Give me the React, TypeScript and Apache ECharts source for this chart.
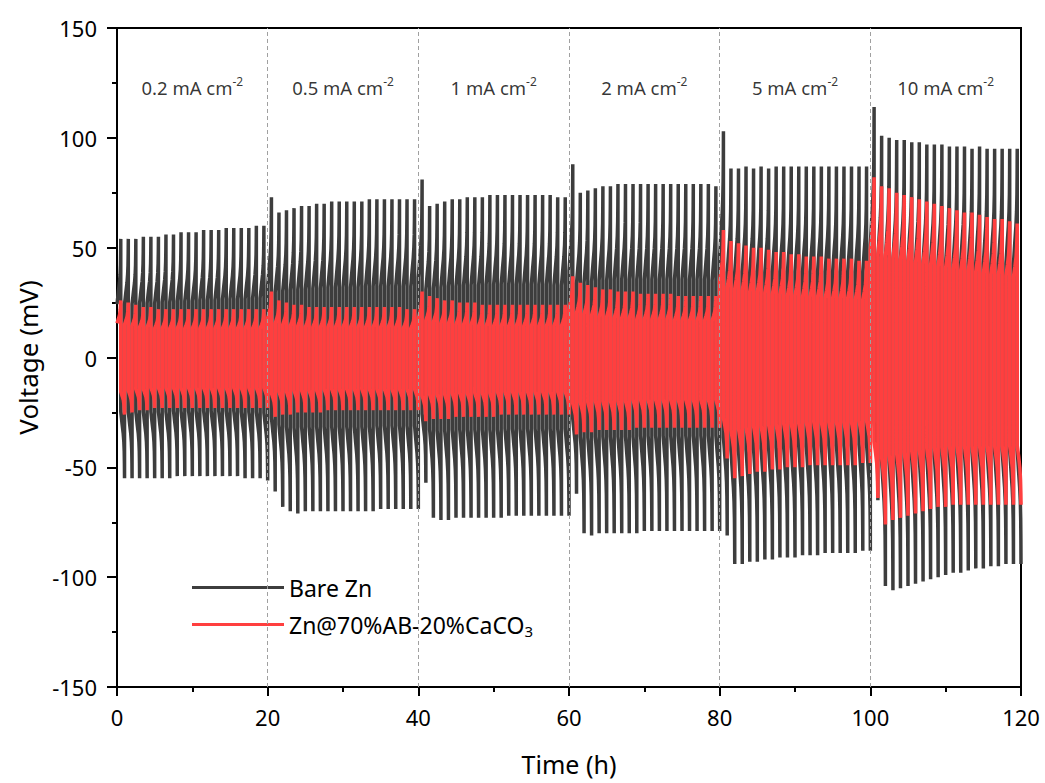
import React, { useEffect, useRef } from "react";
import * as echarts from "echarts";

// ---- data ----
const segmentCurrents = ["0.2", "0.5", "1", "2", "5", "10"];
const segmentCentres = [10, 30, 50, 70, 90, 110];
const segmentBounds = [20, 40, 60, 80, 100];
const cycleHours = 1; // one plating/stripping cycle per hour

// peak voltage (mV) of each cycle, charge half (positive) and discharge half (negative)
const bareZnTop = [
  54, 54, 54, 55, 55, 55, 56, 56, 57, 57, 57, 58, 58, 58, 59, 59, 59, 59, 60, 60,
  73, 66, 67, 68, 69, 69, 70, 70, 71, 71, 71, 71, 71, 72, 72, 72, 72, 72, 72, 72,
  81, 69, 70, 71, 72, 72, 73, 73, 73, 74, 74, 74, 74, 74, 74, 74, 74, 74, 73, 73,
  88, 75, 76, 77, 78, 78, 79, 79, 79, 79, 79, 79, 79, 79, 79, 79, 79, 79, 79, 78,
  103, 86, 86, 87, 86, 87, 86, 87, 87, 87, 87, 87, 87, 87, 87, 87, 87, 87, 87, 87,
  114, 101, 100, 99, 99, 98, 98, 97, 97, 97, 96, 96, 96, 95, 96, 95, 95, 95, 95, 95,
];
const bareZnBottom = [
  -55, -55, -55, -55, -55, -55, -55, -54, -54, -54, -54, -54, -54, -54, -54, -54, -55, -55, -55, -56,
  -61, -68, -70, -71, -70, -70, -70, -70, -70, -70, -70, -70, -70, -70, -69, -69, -69, -69, -69, -69,
  -57, -73, -74, -74, -73, -73, -73, -73, -73, -73, -73, -72, -72, -72, -72, -72, -72, -72, -72, -72,
  -62, -80, -81, -80, -80, -80, -80, -80, -80, -79, -79, -79, -79, -79, -79, -79, -79, -79, -79, -79,
  -81, -94, -94, -93, -93, -92, -92, -91, -91, -91, -90, -90, -90, -89, -89, -89, -89, -89, -88, -88,
  -65, -104, -106, -105, -104, -103, -102, -101, -100, -99, -98, -98, -97, -96, -96, -95, -95, -94, -94, -94,
];
const coatedZnTop = [
  26, 25, 24, 23, 23, 22, 22, 22, 22, 22, 22, 22, 22, 22, 22, 22, 22, 22, 22, 22,
  30, 26, 25, 24, 24, 23, 23, 23, 23, 23, 23, 23, 23, 23, 23, 23, 23, 23, 22, 22,
  30, 28, 27, 26, 26, 25, 25, 25, 24, 24, 24, 24, 24, 24, 24, 24, 24, 24, 24, 24,
  37, 34, 33, 32, 31, 31, 30, 30, 30, 29, 29, 29, 29, 29, 28, 28, 28, 28, 28, 28,
  58, 53, 52, 51, 50, 50, 49, 48, 48, 47, 47, 46, 46, 46, 45, 45, 45, 45, 44, 44,
  82, 78, 77, 75, 74, 73, 72, 71, 70, 69, 68, 67, 66, 66, 65, 64, 63, 63, 62, 61,
];
const coatedZnBottom = [
  -26, -25, -24, -24, -23, -23, -23, -23, -23, -23, -23, -23, -23, -23, -23, -23, -23, -23, -23, -23,
  -27, -26, -26, -25, -25, -25, -25, -24, -24, -24, -24, -24, -24, -24, -24, -24, -24, -24, -24, -24,
  -29, -28, -28, -28, -27, -27, -27, -27, -27, -27, -26, -26, -26, -26, -26, -26, -26, -26, -26, -26,
  -35, -34, -34, -33, -33, -33, -33, -33, -32, -32, -32, -32, -32, -32, -32, -32, -32, -32, -32, -32,
  -46, -55, -54, -53, -52, -52, -51, -51, -50, -50, -50, -49, -49, -49, -49, -49, -49, -49, -48, -48,
  -64, -76, -74, -73, -72, -71, -70, -69, -68, -68, -67, -67, -67, -67, -67, -67, -67, -67, -67, -67,
];

// shape of one half-cycle: [fraction of half-cycle time, fraction of the peak voltage]
const bareZnHalfShape = [
  [0, 0.45], [0.35, 0.55], [0.65, 0.63], [0.82, 0.7], [0.92, 0.78], [0.97, 0.88], [1, 1],
];
const coatedZnHalfShape = [
  [0, 0.6], [0.4, 0.68], [0.7, 0.75], [0.86, 0.83], [0.95, 0.92], [1, 1],
];

const seriesNames = ["Bare Zn", "Zn@70%AB-20%CaCO3"];
const seriesColors = ["#3d3d3d", "#ff3f3f"];

function buildCurve(top: number[], bottom: number[], shape: number[][]) {
  const pts: number[][] = [];
  const half = cycleHours / 2;
  for (let i = 0; i < top.length; i++) {
    const t0 = i * cycleHours;
    for (const [p, f] of shape) pts.push([t0 + p * half, top[i] * f]);
    for (const [p, f] of shape) pts.push([t0 + half + p * half, bottom[i] * f]);
  }
  return pts;
}

const FONT = "Noto Sans";

export default function App() {
  const ref = useRef<HTMLDivElement>(null);
  useEffect(() => {
    const chart = echarts.init(ref.current!, null, { renderer: "svg" });
    const option: any = {
      animation: false,
      backgroundColor: "#fff",
      textStyle: { fontFamily: FONT, color: "#000" },
      grid: {
        left: 117,
        right: 24,
        top: 28,
        bottom: 96,
        containLabel: false,
        outerBoundsMode: "none",
        show: true,
        borderColor: "#000",
        borderWidth: 2,
        backgroundColor: "transparent",
      },
      xAxis: {
        type: "value",
        min: 0,
        max: 120,
        interval: 20,
        name: "Time (h)",
        nameLocation: "middle",
        nameGap: 64,
        nameTextStyle: { fontSize: 25, fontFamily: FONT, color: "#000" },
        axisLine: { show: true, onZero: false, lineStyle: { color: "#000", width: 2 } },
        axisTick: { show: true, length: 9, lineStyle: { color: "#000", width: 2 } },
        minorTick: { show: true, splitNumber: 2, length: 5, lineStyle: { color: "#000", width: 2 } },
        axisLabel: { fontSize: 22, margin: 19, color: "#000", fontFamily: FONT },
        splitLine: { show: false },
      },
      yAxis: {
        type: "value",
        min: -150,
        max: 150,
        interval: 50,
        name: "Voltage (mV)",
        nameLocation: "middle",
        nameGap: 72,
        nameTextStyle: { fontSize: 26, fontFamily: FONT, color: "#000" },
        axisLine: { show: true, onZero: false, lineStyle: { color: "#000", width: 2 } },
        axisTick: { show: true, length: 10, lineStyle: { color: "#000", width: 2 } },
        minorTick: { show: true, splitNumber: 2, length: 5, lineStyle: { color: "#000", width: 2 } },
        axisLabel: { fontSize: 22, margin: 20, color: "#000", fontFamily: FONT },
        splitLine: { show: false },
      },
      legend: {
        left: 187,
        top: 571,
        orient: "vertical",
        icon: "rect",
        itemWidth: 92,
        itemHeight: 3,
        itemGap: 14,
        data: seriesNames,
        formatter: (name: string) =>
          name === seriesNames[1] ? "{n|Zn@70%AB-20%CaCO}{s|3}" : "{n|" + name + "}",
        textStyle: {
          fontFamily: FONT,
          color: "#000",
          rich: {
            n: { fontSize: 23, lineHeight: 27, fontFamily: FONT, color: "#000" },
            s: { fontSize: 15, lineHeight: 15, verticalAlign: "bottom", fontFamily: FONT, color: "#000" },
          },
        },
      },
      series: [
        {
          name: seriesNames[0],
          type: "line",
          data: buildCurve(bareZnTop, bareZnBottom, bareZnHalfShape),
          showSymbol: false,
          symbol: "none",
          color: seriesColors[0],
          lineStyle: { color: seriesColors[0], width: 3.5 },
          silent: true,
          z: 2,
        },
        {
          name: seriesNames[1],
          type: "line",
          data: buildCurve(coatedZnTop, coatedZnBottom, coatedZnHalfShape),
          showSymbol: false,
          symbol: "none",
          color: seriesColors[1],
          lineStyle: { color: seriesColors[1], width: 3.6 },
          silent: true,
          z: 3,
        },
        {
          name: "labels",
          type: "scatter",
          data: segmentCentres.map((x) => [x, 123]),
          symbolSize: 0,
          silent: true,
          z: 5,
          label: {
            show: true,
            position: "inside",
            formatter: (p: any) => "{n|" + segmentCurrents[p.dataIndex] + " mA cm}{p|-2}",
            rich: {
              n: { fontSize: 18.5, lineHeight: 24, fontFamily: FONT, color: "#000" },
              p: { fontSize: 12, lineHeight: 12, verticalAlign: "top", fontFamily: FONT, color: "#000" },
            },
          },
          markLine: {
            silent: true,
            symbol: ["none", "none"],
            label: { show: false },
            lineStyle: { color: "#a0a0a0", type: [4, 3], width: 1 },
            data: segmentBounds.map((x) => ({ xAxis: x })),
          },
        },
      ],
    };
    chart.setOption(option);
    return () => chart.dispose();
  }, []);
  return (
    <div
      ref={ref}
      style={{ position: "fixed", left: 0, top: 0, width: 1045, height: 783 }}
    />
  );
}
